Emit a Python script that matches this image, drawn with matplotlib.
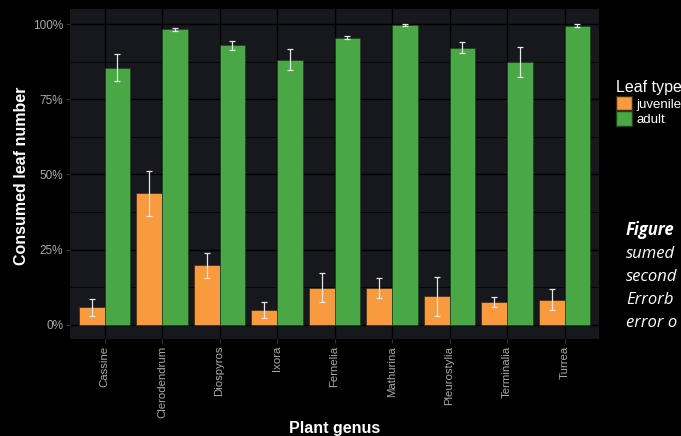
import matplotlib
matplotlib.use("Agg")
import matplotlib.pyplot as plt
import numpy as np
from matplotlib.patches import Patch
from matplotlib.ticker import MultipleLocator, PercentFormatter

genera = ["Cassine", "Clerodendrum", "Diospyros", "Ixora", "Fernelia",
          "Mathurina", "Pleurostylia", "Terminalia", "Turrea"]
juvenile = [5.9, 43.7, 19.8, 5.0, 12.4, 12.3, 9.5, 7.5, 8.4]
juvenile_err = [2.8, 7.6, 4.2, 2.6, 4.9, 3.3, 6.4, 1.7, 3.6]
adult = [85.4, 98.2, 93.0, 88.2, 95.5, 99.8, 92.2, 87.5, 99.5]
adult_err = [4.5, 0.6, 1.5, 3.4, 0.6, 0.3, 1.7, 5.0, 0.4]
# caption runs off the right edge of the slide in the original
caption = ["Figure", "sumed", "second", "Errorb", "error o"]

JUV = "#f99a3e"
ADU = "#49a745"
PANEL = "#16181d"
TICK = "#a9a9a9"

plt.rcParams.update({"font.family": "Liberation Sans"})

fig = plt.figure(figsize=(6.81, 4.36), dpi=100, facecolor="black")
ax = fig.add_axes([70 / 681, 1 - 339 / 436, 529 / 681, 330 / 436])
ax.set_facecolor(PANEL)

x = np.arange(len(genera))
w = 0.45
ekw = dict(ecolor="#e6e6e6", elinewidth=0.9, capsize=2.5, capthick=0.9)
ax.bar(x - w / 2, juvenile, w, color=JUV, edgecolor="#3a2a14", linewidth=0.5,
       yerr=juvenile_err, error_kw=ekw, zorder=3)
ax.bar(x + w / 2, adult, w, color=ADU, edgecolor="#1f3f1d", linewidth=0.5,
       yerr=adult_err, error_kw=ekw, zorder=3)

ax.set_xlim(-0.6, len(genera) - 0.4)
ax.set_ylim(-4.7, 105)
ax.yaxis.set_major_locator(MultipleLocator(25))
ax.yaxis.set_minor_locator(MultipleLocator(12.5))
ax.yaxis.set_major_formatter(PercentFormatter(decimals=0))
ax.set_xticks(x)
ax.set_xticklabels(genera, rotation=90)
ax.grid(which="major", color="black", linewidth=1.0, zorder=0)
ax.grid(which="minor", axis="y", color="black", linewidth=0.5, zorder=0)
ax.tick_params(which="major", colors="#333333", labelcolor=TICK, labelsize=8.5,
               length=3, pad=2)
ax.tick_params(axis="x", labelsize=8.2)
ax.tick_params(which="minor", length=0)
for s in ax.spines.values():
    s.set_visible(False)

fig.text(22 / 681, 1 - 176 / 436, "Consumed leaf number", color="white",
         fontsize=11.5, fontweight="bold", rotation=90, ha="center", va="center")
fig.text(335 / 681, 1 - 428 / 436, "Plant genus", color="white", fontsize=11.5,
         fontweight="bold", ha="center", va="center")

handles = [Patch(facecolor=JUV, edgecolor="#3a2a14", label="juvenile"),
           Patch(facecolor=ADU, edgecolor="#1f3f1d", label="adult")]
leg = fig.legend(handles=handles, title="Leaf type", loc="upper left",
                 bbox_to_anchor=(607 / 681, 1 - 71 / 436), frameon=False,
                 fontsize=9.5, title_fontsize=11.5, labelcolor="white",
                 handlelength=1.2, handleheight=1.3, handletextpad=0.3,
                 labelspacing=0.05, borderpad=0.2)
leg.get_title().set_color("white")
leg._legend_box.align = "left"

ys = [230, 254, 277, 300, 323]
for i, (line, yy) in enumerate(zip(caption, ys)):
    fig.text(626 / 681, 1 - yy / 436, line, color="white", fontsize=12,
             family="Open Sans", style="italic",
             fontweight="bold" if i == 0 else "normal", va="center")

fig.savefig("out.png", dpi=100, facecolor="black")
